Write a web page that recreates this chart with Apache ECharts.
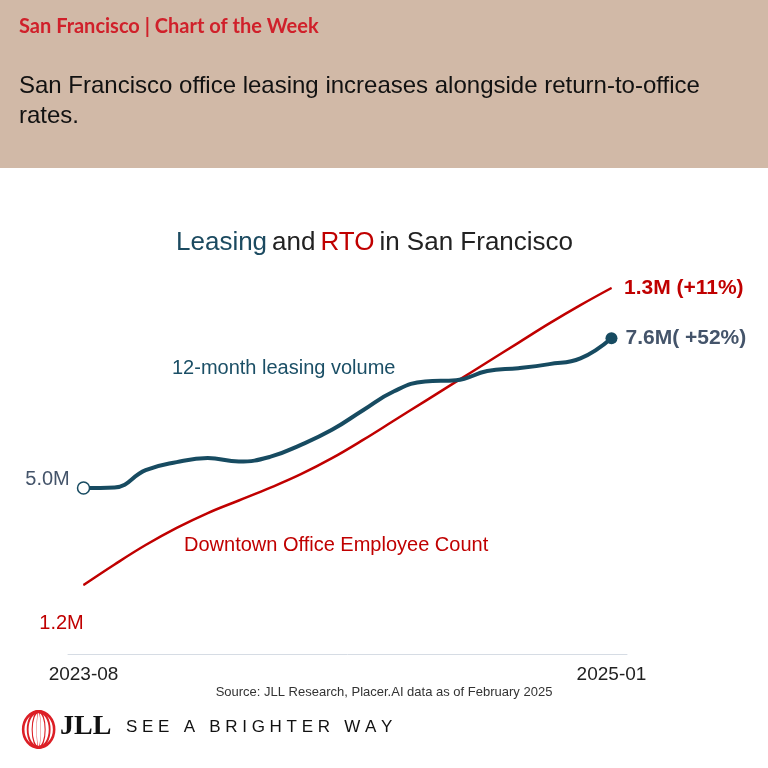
<!DOCTYPE html>
<html>
<head>
<meta charset="utf-8">
<script src="https://cdn.jsdelivr.net/npm/echarts@6/dist/echarts.min.js"></script>
<style>
    html, body { margin: 0; padding: 0; background: #fff; }
    #chart { width: 768px; height: 768px; }
</style>
</head>
<body>
<div id="chart"></div>
<script>
var months = ['2023-08', '2023-09', '2023-10', '2023-11', '2023-12', '2024-01', '2024-02', '2024-03', '2024-04',
    '2024-05', '2024-06', '2024-07', '2024-08', '2024-09', '2024-10', '2024-11', '2024-12', '2025-01'];
// 12-month leasing volume, million sf
var leasing = [5.00, 5.01, 5.31, 5.45, 5.52, 5.46, 5.54, 5.75, 6.01, 6.35, 6.68, 6.85, 6.87, 7.03, 7.08, 7.15, 7.25, 7.60];
// downtown office employee count, millions
var employees = [1.1700, 1.1790, 1.1875, 1.1950, 1.2015, 1.2070, 1.2125, 1.2185, 1.2255, 1.2335, 1.2420, 1.2505,
    1.2590, 1.2675, 1.2760, 1.2845, 1.2925, 1.3000];
var leasingLabels = ['5.0M', '7.6M( +52%)'];
var employeeLabels = ['1.2M', '1.3M (+11%)'];

var teal = '#174b61';
var slate = '#44546a';
var red = '#c00000';
var logoRed = '#dc1f26';

var chart = echarts.init(document.getElementById('chart'), null, { renderer: 'canvas' });

var last = months.length - 1;

var leasingData = leasing.map(function (v, i) {
    if (i === 0) {
        return {
            value: v, symbol: 'circle', symbolSize: 12,
            itemStyle: { color: '#fff', borderColor: teal, borderWidth: 1.5 },
            label: { show: true, position: 'left', distance: 7, offset: [0, -9], formatter: leasingLabels[0],
                color: slate, fontSize: 20, fontFamily: 'Liberation Sans, Arial' }
        };
    }
    if (i === last) {
        return {
            value: v, symbol: 'circle', symbolSize: 12,
            itemStyle: { color: teal },
            label: { show: true, position: 'right', distance: 8, formatter: leasingLabels[1],
                color: slate, fontSize: 21, fontWeight: 'bold', fontFamily: 'Liberation Sans, Arial' }
        };
    }
    return v;
});

var employeeData = employees.map(function (v, i) {
    if (i === 0) {
        return {
            value: v, symbol: 'circle', symbolSize: 1,
            label: { show: true, position: 'bottom', distance: 0, offset: [-22, 28], formatter: employeeLabels[0],
                color: red, fontSize: 20, fontFamily: 'Liberation Sans, Arial' }
        };
    }
    if (i === last) {
        return {
            value: v, symbol: 'circle', symbolSize: 1,
            label: { show: true, position: 'right', distance: 12, formatter: employeeLabels[1],
                color: red, fontSize: 21, fontWeight: 'bold', fontFamily: 'Liberation Sans, Arial' }
        };
    }
    return v;
});

// logo rings: nested ellipses from one circle squeezed sideways
var logoRings = [15.5, 11, 6.5, 2].map(function (rx) {
    return {
        type: 'circle', x: 17, y: 18, scaleX: rx / 18,
        shape: { cx: 0, cy: 0, r: 18 },
        style: { fill: 'none', stroke: logoRed, lineWidth: 3, strokeNoScale: true }
    };
});

var option = {
    backgroundColor: '#fff',
    animation: false,
    textStyle: { fontFamily: 'Liberation Sans, Arial' },
    title: {
        text: '{a|Leasing} {b|and} {c|RTO} {b|in San Francisco}',
        left: 171,
        top: 225,
        textStyle: {
            rich: {
                a: { color: '#1b4a60', fontSize: 26, fontWeight: 'normal', fontFamily: 'Liberation Sans, Arial' },
                b: { color: '#222', fontSize: 26, fontWeight: 'normal', fontFamily: 'Liberation Sans, Arial' },
                c: { color: red, fontSize: 26, fontWeight: 'normal', fontFamily: 'Liberation Sans, Arial' }
            }
        }
    },
    grid: { left: 68, right: 141, top: 280, bottom: 114 },
    xAxis: {
        type: 'category',
        data: months,
        boundaryGap: true,
        axisLine: { lineStyle: { color: '#d6dce4', width: 1 } },
        axisTick: { show: false },
        axisLabel: {
            interval: function (i) { return i === 0 || i === last; },
            color: '#222', fontSize: 19, margin: 11
        },
        splitLine: { show: false }
    },
    yAxis: [
        { type: 'value', min: 2.12, max: 8.61, show: false, splitLine: { show: false } },
        { type: 'value', min: 1.1398, max: 1.3035, show: false, splitLine: { show: false } }
    ],
    series: [
        {
            name: 'Downtown Office Employee Count',
            type: 'line',
            yAxisIndex: 1,
            data: employeeData,
            symbol: 'none',
            showSymbol: true,
            smooth: 0.4,
            lineStyle: { color: red, width: 2.5 },
            itemStyle: { color: red },
            z: 2
        },
        {
            name: '12-month leasing volume',
            type: 'line',
            yAxisIndex: 0,
            data: leasingData,
            symbol: 'none',
            showSymbol: true,
            smooth: 0.45,
            lineStyle: { color: teal, width: 4 },
            itemStyle: { color: teal },
            z: 3
        }
    ],
    graphic: [
        { type: 'rect', left: 0, top: 0, z: -1, shape: { width: 768, height: 168 }, style: { fill: '#d1b9a7' } },
        { type: 'text', left: 19, top: 17, style: { text: 'San Francisco | Chart of the Week', fill: '#d0202a',
            font: 'bold 20px Lato, "Open Sans", sans-serif' } },
        { type: 'text', left: 19, top: 71, style: { text: 'San Francisco office leasing increases alongside return-to-office\nrates.',
            fill: '#111', font: '24px "Liberation Sans", Arial', lineHeight: 30 } },
        { type: 'text', left: 172, top: 358, style: { text: '12-month leasing volume', fill: '#1b4f66',
            font: '20px "Liberation Sans", Arial' } },
        { type: 'text', left: 184, top: 535, style: { text: 'Downtown Office Employee Count', fill: red,
            font: '20px "Liberation Sans", Arial' } },
        { type: 'text', left: 'center', top: 686, style: { text: 'Source: JLL Research, Placer.AI data as of February 2025',
            fill: '#333', font: '13px "Liberation Sans", Arial' } },
        { type: 'group', left: 21, top: 709, children: logoRings },
        { type: 'text', left: 60, top: 713, style: { text: 'JLL', fill: '#111', font: 'bold 28px "Liberation Serif", serif' } },
        { type: 'text', left: 126, top: 719, style: { text: 'S E E   A   B R I G H T E R   W A Y', fill: '#111',
            font: '17px "Liberation Sans", Arial' } }
    ]
};

chart.setOption(option);
</script>
</body>
</html>
